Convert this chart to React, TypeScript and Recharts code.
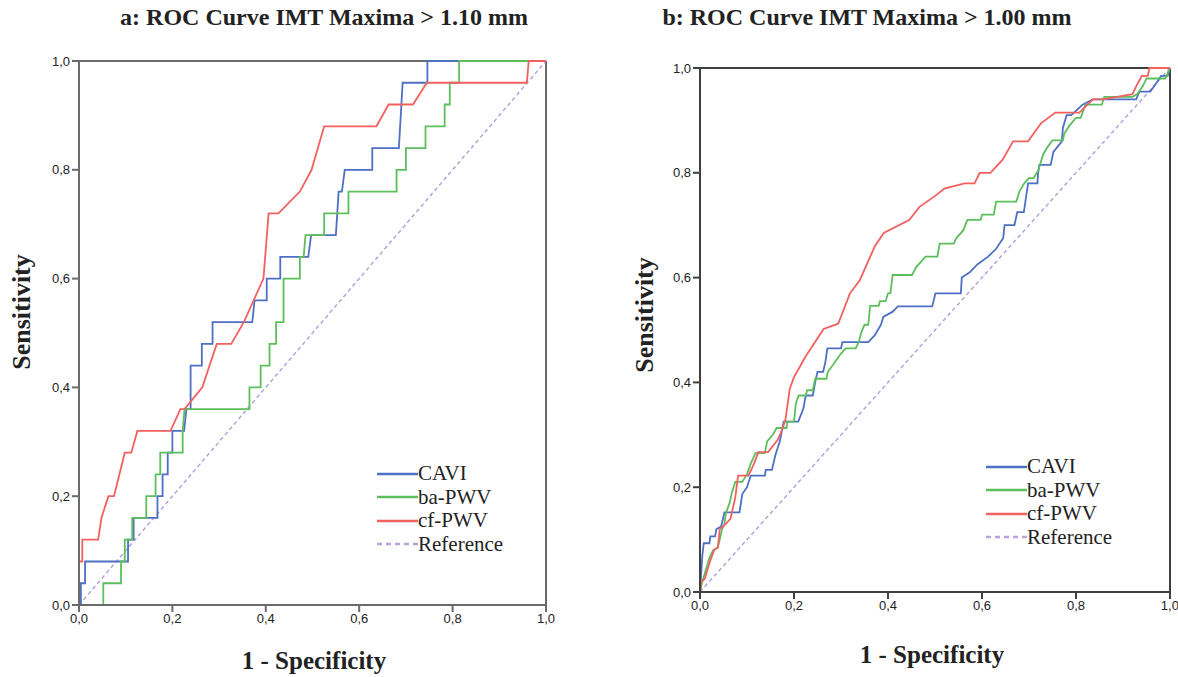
import React from 'react';
import { LineChart, Line, XAxis, YAxis, ReferenceLine } from 'recharts';

// points are [1 - specificity, sensitivity]
const axisTicks = [0, 0.2, 0.4, 0.6, 0.8, 1];
const seriesNames = ['CAVI', 'ba-PWV', 'cf-PWV', 'Reference'];

// panel a: IMT maxima > 1.10 mm
const caviA = [
  [0, 0], [0.004, 0], [0.004, 0.04], [0.013, 0.04], [0.013, 0.08], [0.105, 0.08], [0.105, 0.12],
  [0.117, 0.12], [0.117, 0.16], [0.168, 0.16], [0.168, 0.2], [0.179, 0.2], [0.179, 0.24], [0.19, 0.24],
  [0.19, 0.28], [0.2, 0.28], [0.2, 0.32], [0.225, 0.32], [0.23, 0.36], [0.239, 0.36], [0.239, 0.44],
  [0.263, 0.44], [0.263, 0.48], [0.286, 0.48], [0.286, 0.52], [0.371, 0.52], [0.376, 0.56], [0.402, 0.56],
  [0.402, 0.6], [0.431, 0.6], [0.431, 0.64], [0.491, 0.64], [0.497, 0.68], [0.55, 0.68], [0.553, 0.72],
  [0.556, 0.76], [0.563, 0.76], [0.569, 0.8], [0.628, 0.8], [0.628, 0.84], [0.685, 0.84], [0.693, 0.96],
  [0.746, 0.96], [0.746, 1], [1, 1],
];
const baPwvA = [
  [0, 0], [0.052, 0], [0.052, 0.04], [0.09, 0.04], [0.09, 0.08], [0.098, 0.08], [0.098, 0.12],
  [0.114, 0.12], [0.114, 0.16], [0.144, 0.16], [0.144, 0.2], [0.164, 0.2], [0.164, 0.24], [0.174, 0.24],
  [0.174, 0.28], [0.222, 0.28], [0.222, 0.32], [0.226, 0.36], [0.365, 0.36], [0.365, 0.4], [0.389, 0.4],
  [0.389, 0.44], [0.408, 0.44], [0.408, 0.48], [0.422, 0.48], [0.422, 0.52], [0.438, 0.52], [0.438, 0.6],
  [0.473, 0.6], [0.473, 0.64], [0.481, 0.64], [0.485, 0.68], [0.525, 0.68], [0.525, 0.72], [0.577, 0.72],
  [0.577, 0.76], [0.68, 0.76], [0.68, 0.8], [0.7, 0.8], [0.7, 0.84], [0.742, 0.84], [0.742, 0.88],
  [0.783, 0.88], [0.783, 0.92], [0.794, 0.92], [0.794, 0.96], [0.814, 0.96], [0.814, 1], [1, 1],
];
const cfPwvA = [
  [0, 0], [0, 0.08], [0.007, 0.08], [0.007, 0.12], [0.041, 0.12], [0.048, 0.16], [0.063, 0.2],
  [0.075, 0.2], [0.098, 0.28], [0.112, 0.28], [0.125, 0.32], [0.196, 0.32], [0.217, 0.36], [0.226, 0.36],
  [0.264, 0.4], [0.295, 0.48], [0.326, 0.48], [0.353, 0.52], [0.395, 0.6], [0.406, 0.72], [0.427, 0.72],
  [0.473, 0.76], [0.498, 0.8], [0.525, 0.88], [0.637, 0.88], [0.663, 0.92], [0.715, 0.92], [0.745, 0.96],
  [0.959, 0.96], [0.963, 1], [1, 1],
];

// panel b: IMT maxima > 1.00 mm
const caviB = [
  [0, 0], [0.005, 0.07], [0.008, 0.093], [0.02, 0.093], [0.022, 0.106], [0.032, 0.106], [0.035, 0.12],
  [0.045, 0.125], [0.052, 0.152], [0.084, 0.152], [0.09, 0.187], [0.1, 0.2], [0.108, 0.222], [0.138, 0.222],
  [0.14, 0.233], [0.153, 0.233], [0.16, 0.26], [0.17, 0.288], [0.175, 0.311], [0.178, 0.325], [0.209, 0.325],
  [0.22, 0.35], [0.225, 0.375], [0.24, 0.375], [0.245, 0.4], [0.25, 0.42], [0.262, 0.42], [0.267, 0.44],
  [0.271, 0.465], [0.3, 0.465], [0.303, 0.477], [0.358, 0.477], [0.372, 0.49], [0.385, 0.51], [0.39, 0.525],
  [0.41, 0.535], [0.421, 0.545], [0.494, 0.545], [0.501, 0.57], [0.555, 0.57], [0.557, 0.6], [0.574, 0.61],
  [0.59, 0.625], [0.613, 0.64], [0.63, 0.655], [0.645, 0.675], [0.648, 0.7], [0.669, 0.7], [0.675, 0.725],
  [0.689, 0.725], [0.698, 0.78], [0.718, 0.78], [0.719, 0.797], [0.722, 0.815], [0.746, 0.815], [0.752, 0.84],
  [0.77, 0.86], [0.772, 0.885], [0.78, 0.91], [0.79, 0.91], [0.814, 0.93], [0.836, 0.94], [0.928, 0.94],
  [0.935, 0.955], [0.958, 0.955], [0.97, 0.97], [0.981, 0.985], [0.995, 0.985], [1, 1],
];
const baPwvB = [
  [0, 0], [0.005, 0.02], [0.01, 0.035], [0.015, 0.05], [0.02, 0.065], [0.028, 0.08], [0.038, 0.085],
  [0.042, 0.1], [0.047, 0.12], [0.052, 0.13], [0.055, 0.15], [0.063, 0.17], [0.068, 0.19], [0.075, 0.21],
  [0.09, 0.21], [0.1, 0.225], [0.108, 0.245], [0.118, 0.265], [0.138, 0.265], [0.143, 0.288], [0.155, 0.3],
  [0.163, 0.313], [0.184, 0.313], [0.186, 0.325], [0.2, 0.325], [0.204, 0.36], [0.21, 0.375], [0.225, 0.375],
  [0.228, 0.385], [0.24, 0.385], [0.245, 0.407], [0.269, 0.407], [0.272, 0.42], [0.28, 0.43], [0.288, 0.44],
  [0.3, 0.455], [0.31, 0.465], [0.331, 0.465], [0.338, 0.477], [0.343, 0.495], [0.35, 0.51], [0.358, 0.51],
  [0.362, 0.546], [0.38, 0.546], [0.383, 0.555], [0.395, 0.555], [0.4, 0.57], [0.405, 0.57], [0.41, 0.605],
  [0.451, 0.605], [0.46, 0.62], [0.47, 0.63], [0.48, 0.64], [0.505, 0.64], [0.51, 0.665], [0.54, 0.665],
  [0.545, 0.675], [0.56, 0.69], [0.569, 0.71], [0.597, 0.71], [0.6, 0.72], [0.625, 0.72], [0.63, 0.745],
  [0.673, 0.745], [0.68, 0.765], [0.69, 0.78], [0.7, 0.79], [0.71, 0.79], [0.72, 0.805], [0.725, 0.82],
  [0.73, 0.835], [0.74, 0.85], [0.75, 0.862], [0.772, 0.862], [0.775, 0.875], [0.786, 0.89], [0.8, 0.905],
  [0.81, 0.905], [0.82, 0.93], [0.855, 0.93], [0.86, 0.945], [0.92, 0.945], [0.93, 0.95], [0.942, 0.965],
  [0.95, 0.98], [0.99, 0.98], [1, 1],
];
const cfPwvB = [
  [0, 0], [0.003, 0.02], [0.01, 0.025], [0.015, 0.04], [0.022, 0.06], [0.03, 0.08], [0.038, 0.085],
  [0.042, 0.12], [0.055, 0.13], [0.065, 0.14], [0.075, 0.18], [0.081, 0.222], [0.103, 0.222], [0.115, 0.245],
  [0.124, 0.267], [0.145, 0.267], [0.165, 0.29], [0.175, 0.31], [0.182, 0.33], [0.191, 0.388], [0.2, 0.41],
  [0.225, 0.45], [0.263, 0.502], [0.294, 0.512], [0.319, 0.57], [0.34, 0.595], [0.372, 0.66], [0.391, 0.685],
  [0.445, 0.71], [0.467, 0.735], [0.499, 0.755], [0.52, 0.77], [0.563, 0.78], [0.584, 0.78], [0.595, 0.8],
  [0.618, 0.8], [0.644, 0.825], [0.666, 0.86], [0.698, 0.86], [0.726, 0.895], [0.756, 0.915], [0.807, 0.915],
  [0.836, 0.94], [0.857, 0.94], [0.92, 0.95], [0.931, 0.97], [0.94, 0.985], [0.953, 0.985], [0.956, 1], [1, 1],
];
const diagonal = [[0, 0], [1, 1]];

const colors = ['#4d6fc4', '#5cbf5c', '#f2605f', '#b7a3dc'];
const serif = '"Liberation Serif", "Times New Roman", serif';
const sans = '"Liberation Sans Narrow", "Liberation Sans", Arial, sans-serif';

const toRows = (pts: number[][]) => pts.map(([x, y]) => ({ x, y }));
const comma = (v: number) => v.toFixed(1).replace('.', ',');

interface PanelProps {
  title: string;
  lines: number[][][];
  left: number;
  width: number;
  margin: { top: number; right: number; bottom: number; left: number };
  axisColor: string;
  titleX: number;
  ylabelX: number;
  ylabelY: number;
  xlabelX: number;
  xlabelY: number;
  legendX: number;
  legendY: number;
}

function Panel(p: PanelProps) {
  const height = 677;
  return (
    <div style={{ position: 'absolute', left: p.left, top: 0, width: p.width, height }}>
      <LineChart width={p.width} height={height} margin={p.margin}>
        <XAxis
          type="number"
          dataKey="x"
          domain={[0, 1]}
          ticks={axisTicks}
          tickFormatter={comma}
          stroke={p.axisColor}
          strokeWidth={2}
          tickSize={7}
          height={30}
          tick={{ fill: '#222', fontSize: 13, fontFamily: sans }}
        />
        <YAxis
          type="number"
          dataKey="y"
          domain={[0, 1]}
          ticks={axisTicks}
          tickFormatter={comma}
          stroke={p.axisColor}
          strokeWidth={2}
          tickSize={7}
          width={40}
          tick={{ fill: '#222', fontSize: 13, fontFamily: sans }}
        />
        <ReferenceLine y={1} stroke={p.axisColor} strokeWidth={2} />
        <ReferenceLine x={1} stroke={p.axisColor} strokeWidth={2} />
        <Line data={toRows(diagonal)} dataKey="y" type="linear" stroke={colors[3]} strokeWidth={1.5}
          strokeDasharray="4 3" dot={false} isAnimationActive={false} />
        {p.lines.map((pts, i) => (
          <Line key={seriesNames[i]} data={toRows(pts)} dataKey="y" type="linear" stroke={colors[i]}
            strokeWidth={1.8} dot={false} isAnimationActive={false} />
        ))}
      </LineChart>
      <div style={{ position: 'absolute', left: p.titleX, top: 4, transform: 'translateX(-50%)', whiteSpace: 'nowrap',
        fontFamily: serif, fontWeight: 'bold', fontSize: 24, color: '#222' }}>{p.title}</div>
      <div style={{ position: 'absolute', left: p.ylabelX, top: p.ylabelY, transform: 'translate(-50%, -50%) rotate(-90deg)',
        whiteSpace: 'nowrap', fontFamily: serif, fontWeight: 'bold', fontSize: 26, color: '#222' }}>Sensitivity</div>
      <div style={{ position: 'absolute', left: p.xlabelX, top: p.xlabelY, transform: 'translate(-50%, -50%)',
        whiteSpace: 'nowrap', fontFamily: serif, fontWeight: 'bold', fontSize: 25, color: '#222' }}>1 - Specificity</div>
      <div style={{ position: 'absolute', left: p.legendX, top: p.legendY }}>
        {seriesNames.map((name, i) => (
          <div key={name} style={{ display: 'flex', alignItems: 'center', height: 23.5 }}>
            <svg width={41} height={6}>
              <line x1={0} y1={3} x2={41} y2={3} stroke={colors[i]} strokeWidth={2.5}
                strokeDasharray={i === 3 ? '5 4' : undefined} />
            </svg>
            <span style={{ fontFamily: serif, fontSize: 21, color: '#222', lineHeight: '21px' }}>{name}</span>
          </div>
        ))}
      </div>
    </div>
  );
}

export default function App() {
  return (
    <div style={{ position: 'absolute', left: 0, top: 0, width: 1178, height: 677, background: '#fff' }}>
      <Panel
        title="a: ROC Curve IMT Maxima > 1.10 mm"
        lines={[caviA, baPwvA, cfPwvA]}
        left={0}
        width={560}
        margin={{ top: 61, right: 14, bottom: 42, left: 39 }}
        axisColor="#6a6a6a"
        titleX={324}
        ylabelX={22}
        ylabelY={312}
        xlabelX={314}
        xlabelY={661}
        legendX={377}
        legendY={462}
      />
      <Panel
        title="b: ROC Curve IMT Maxima > 1.00 mm"
        lines={[caviB, baPwvB, cfPwvB]}
        left={620}
        width={558}
        margin={{ top: 68, right: 8, bottom: 55, left: 40 }}
        axisColor="#404040"
        titleX={247}
        ylabelX={25}
        ylabelY={315}
        xlabelX={312}
        xlabelY={655}
        legendX={366}
        legendY={455}
      />
    </div>
  );
}
